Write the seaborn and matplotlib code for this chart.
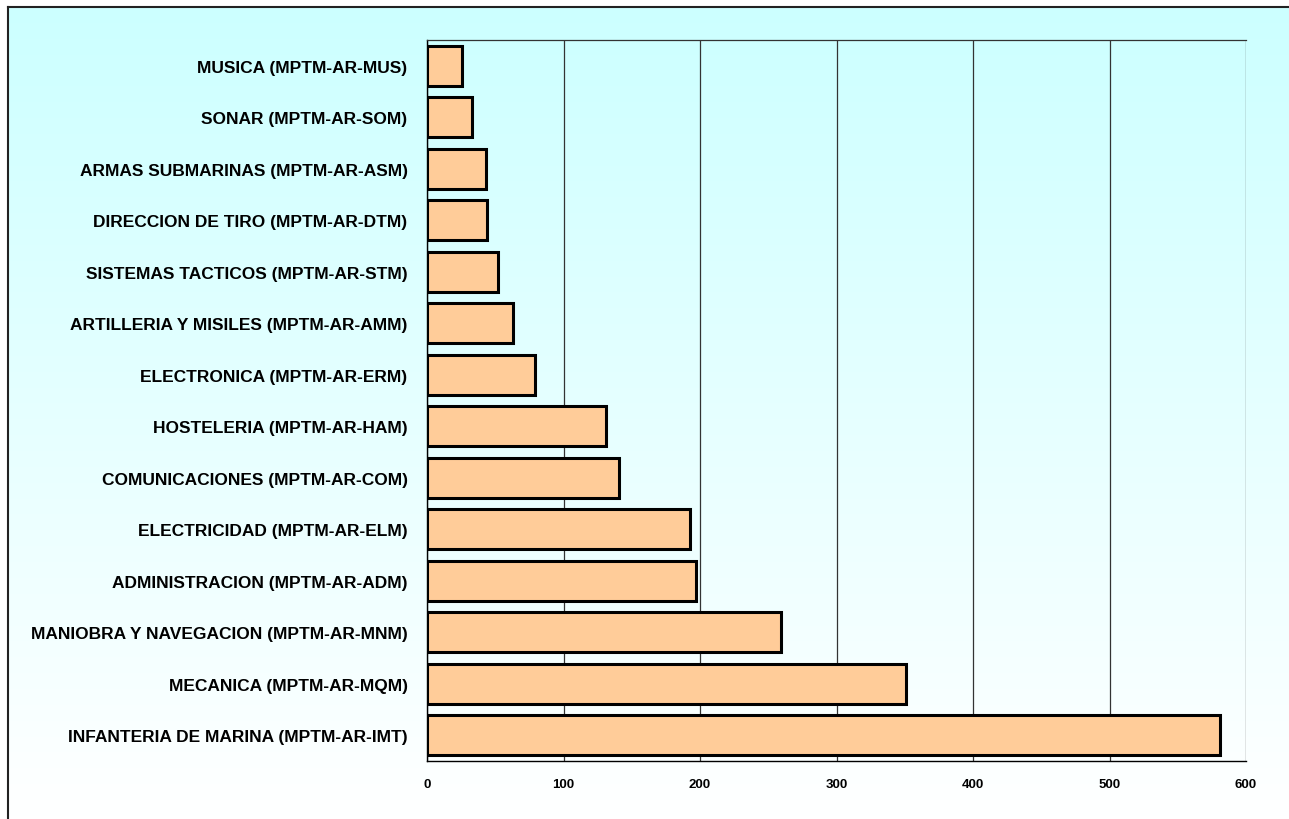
import matplotlib

matplotlib.use("Agg")
import matplotlib.pyplot as plt
import numpy as np
import pandas as pd
import seaborn as sns

categories = [
    "MUSICA (MPTM-AR-MUS)",
    "SONAR (MPTM-AR-SOM)",
    "ARMAS SUBMARINAS (MPTM-AR-ASM)",
    "DIRECCION DE TIRO (MPTM-AR-DTM)",
    "SISTEMAS TACTICOS (MPTM-AR-STM)",
    "ARTILLERIA Y MISILES (MPTM-AR-AMM)",
    "ELECTRONICA (MPTM-AR-ERM)",
    "HOSTELERIA (MPTM-AR-HAM)",
    "COMUNICACIONES (MPTM-AR-COM)",
    "ELECTRICIDAD (MPTM-AR-ELM)",
    "ADMINISTRACION (MPTM-AR-ADM)",
    "MANIOBRA Y NAVEGACION (MPTM-AR-MNM)",
    "MECANICA (MPTM-AR-MQM)",
    "INFANTERIA DE MARINA (MPTM-AR-IMT)",
]
values = [26, 33, 43, 44, 52, 63, 79, 131, 141, 193, 197, 259, 351, 581]
x_ticks = [0, 100, 200, 300, 400, 500, 600]

BAR_COLOR = "#FFCC99"

sns.set_style("white")
plt.rcParams["font.family"] = ["Liberation Sans", "DejaVu Sans"]
plt.rcParams.update(
    {
        "text.color": "black",
        "axes.labelcolor": "black",
        "xtick.color": "black",
        "ytick.color": "black",
    }
)

W, H = 1289, 820
fig = plt.figure(figsize=(W / 100, H / 100), dpi=100)

# background panel: cyan-to-white gradient, border on left and top only
bg = fig.add_axes([8 / W, 0, 1 - 8 / W, 1 - 8 / H], zorder=-5)
grad = np.linspace(0, 1, 256).reshape(-1, 1)
top = np.array([0.80, 1.0, 1.0])
bottom = np.array([1.0, 1.0, 1.0])
img = top + (bottom - top) * grad[..., None]
bg.imshow(img, aspect="auto", extent=[0, 1, 0, 1], origin="upper")
bg.set_xticks([])
bg.set_yticks([])
for side, s in bg.spines.items():
    s.set_color("#222222")
    s.set_linewidth(1.5)
    s.set_visible(side in ("left", "top"))

ax = fig.add_axes([427 / W, 1 - 762 / H, (1246 - 427) / W, (762 - 41) / H])
ax.patch.set_alpha(0)

df = pd.DataFrame({"category": categories, "value": values})
sns.barplot(
    data=df,
    x="value",
    y="category",
    orient="h",
    color=BAR_COLOR,
    saturation=1,
    edgecolor="black",
    linewidth=2.2,
    width=0.78,
    ax=ax,
    zorder=3,
)

ax.set_xlim(0, 600)
ax.set_ylim(len(categories) - 0.5, -0.5)
ax.set_xticks(x_ticks)
ax.set_xticklabels([str(t) for t in x_ticks], fontsize=9.5, fontweight="bold")
ax.tick_params(axis="x", direction="out", length=5, width=1, color="black", pad=7)
ax.tick_params(axis="y", length=0, pad=14)
for lbl in ax.get_yticklabels():
    lbl.set_fontweight("bold")
    lbl.set_fontsize(12.5)
ax.xaxis.grid(True, color="#333333", linewidth=0.9, zorder=0)
ax.set_axisbelow(True)
ax.set_xlabel("")
ax.set_ylabel("")
for side in ["left", "bottom"]:
    ax.spines[side].set_visible(True)
    ax.spines[side].set_color("black")
    ax.spines[side].set_linewidth(1)
ax.spines["top"].set_color("#333333")
ax.spines["top"].set_linewidth(0.9)
ax.spines["right"].set_visible(False)

fig.savefig("out.png", dpi=100)
plt.close(fig)
